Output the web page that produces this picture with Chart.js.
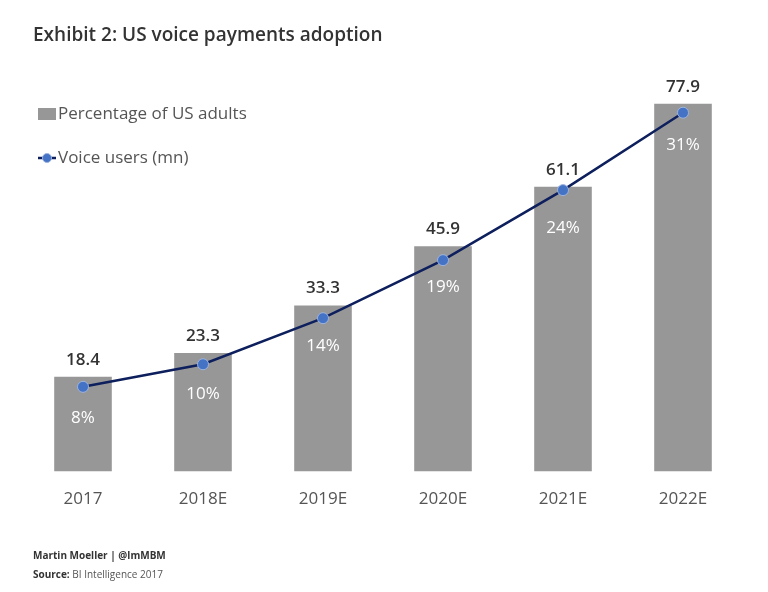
<!DOCTYPE html>
<html>
<head>
<meta charset="utf-8">
<script src="https://cdn.jsdelivr.net/npm/chart.js@4.4.0/dist/chart.umd.min.js"></script>
<style>
  html, body { margin: 0; padding: 0; background: #fff; }
  #wrap { position: relative; width: 768px; height: 592px; overflow: hidden; font-family: "Open Sans", "Noto Sans", sans-serif; }
  #title { position: absolute; left: 33px; top: 21px; font-size: 19px; font-weight: 600; color: #333; white-space: nowrap; }
  #author { position: absolute; left: 33px; top: 548px; font-size: 10px; font-weight: 700; color: #333; }
  #source { position: absolute; left: 33px; top: 567px; font-size: 10px; color: #555; }
  #source b { color: #333; }
  canvas { position: absolute; left: 0; top: 0; }
</style>
</head>
<body>
<div id="wrap">
  <canvas id="c" width="768" height="592"></canvas>
  <div id="title">Exhibit 2: US voice payments adoption</div>
  <div id="author">Martin Moeller | @lmMBM</div>
  <div id="source"><b>Source:</b> BI Intelligence 2017</div>
</div>
<script>
const categories = ["2017", "2018E", "2019E", "2020E", "2021E", "2022E"];
const adultsPct = [8, 10, 14, 19, 24, 31];
const voiceUsers = [18.4, 23.3, 33.3, 45.9, 61.1, 77.9];
const seriesNames = ["Percentage of US adults", "Voice users (mn)"];

const FONT = '"Open Sans", "Noto Sans", sans-serif';

const labelPlugin = {
  id: 'labels',
  afterDatasetsDraw(chart) {
    const ctx = chart.ctx;
    const barMeta = chart.getDatasetMeta(1);
    ctx.save();
    ctx.textAlign = 'center';
    ctx.textBaseline = 'middle';
    barMeta.data.forEach((bar, i) => {
      ctx.font = '17px ' + FONT;
      ctx.fillStyle = '#ffffff';
      ctx.fillText(adultsPct[i] + '%', bar.x, bar.y + 41);
      ctx.font = '600 17px ' + FONT;
      ctx.fillStyle = '#333333';
      ctx.fillText(voiceUsers[i].toFixed(1), bar.x, bar.y - 17);
    });
    // legend
    const lx = 38;
    ctx.textAlign = 'left';
    ctx.font = '17px ' + FONT;
    ctx.fillStyle = '#979797';
    ctx.fillRect(lx, 108, 18, 12);
    ctx.fillStyle = '#555555';
    ctx.fillText(seriesNames[0], lx + 20, 114);
    ctx.strokeStyle = '#0d1f5c';
    ctx.lineWidth = 2.5;
    ctx.beginPath();
    ctx.moveTo(lx, 158); ctx.lineTo(lx + 18, 158); ctx.stroke();
    ctx.fillStyle = '#4472c4';
    ctx.strokeStyle = '#9db4e0';
    ctx.lineWidth = 1;
    ctx.beginPath(); ctx.arc(lx + 9, 158, 4.5, 0, Math.PI * 2); ctx.fill(); ctx.stroke();
    ctx.fillStyle = '#555555';
    ctx.fillText(seriesNames[1], lx + 20, 158);
    ctx.restore();
  }
};

new Chart(document.getElementById('c'), {
  data: {
    labels: categories,
    datasets: [
      {
        type: 'line',
        label: seriesNames[1],
        data: voiceUsers,
        yAxisID: 'yLine',
        borderColor: '#0d1f5c',
        borderWidth: 2.5,
        pointRadius: 5.5,
        pointBackgroundColor: '#4472c4',
        pointBorderColor: '#9db4e0',
        pointBorderWidth: 1,
        tension: 0,
        order: 0
      },
      {
        type: 'bar',
        label: seriesNames[0],
        data: adultsPct,
        yAxisID: 'yBar',
        backgroundColor: '#979797',
        barPercentage: 0.8,
        categoryPercentage: 0.6,
        order: 1
      }
    ]
  },
  options: {
    responsive: false,
    animation: false,
    layout: { padding: { left: 23, right: 25, top: 80, bottom: 66 } },
    plugins: { legend: { display: false }, tooltip: { enabled: false } },
    scales: {
      x: {
        grid: { display: false, drawTicks: false },
        border: { display: false },
        ticks: { color: '#555', font: { family: FONT, size: 17 }, padding: 17 }
      },
      yBar: { display: false, min: 0, max: 33 },
      yLine: { display: false, min: 0, max: 85 }
    }
  },
  plugins: [labelPlugin]
});
</script>
</body>
</html>
